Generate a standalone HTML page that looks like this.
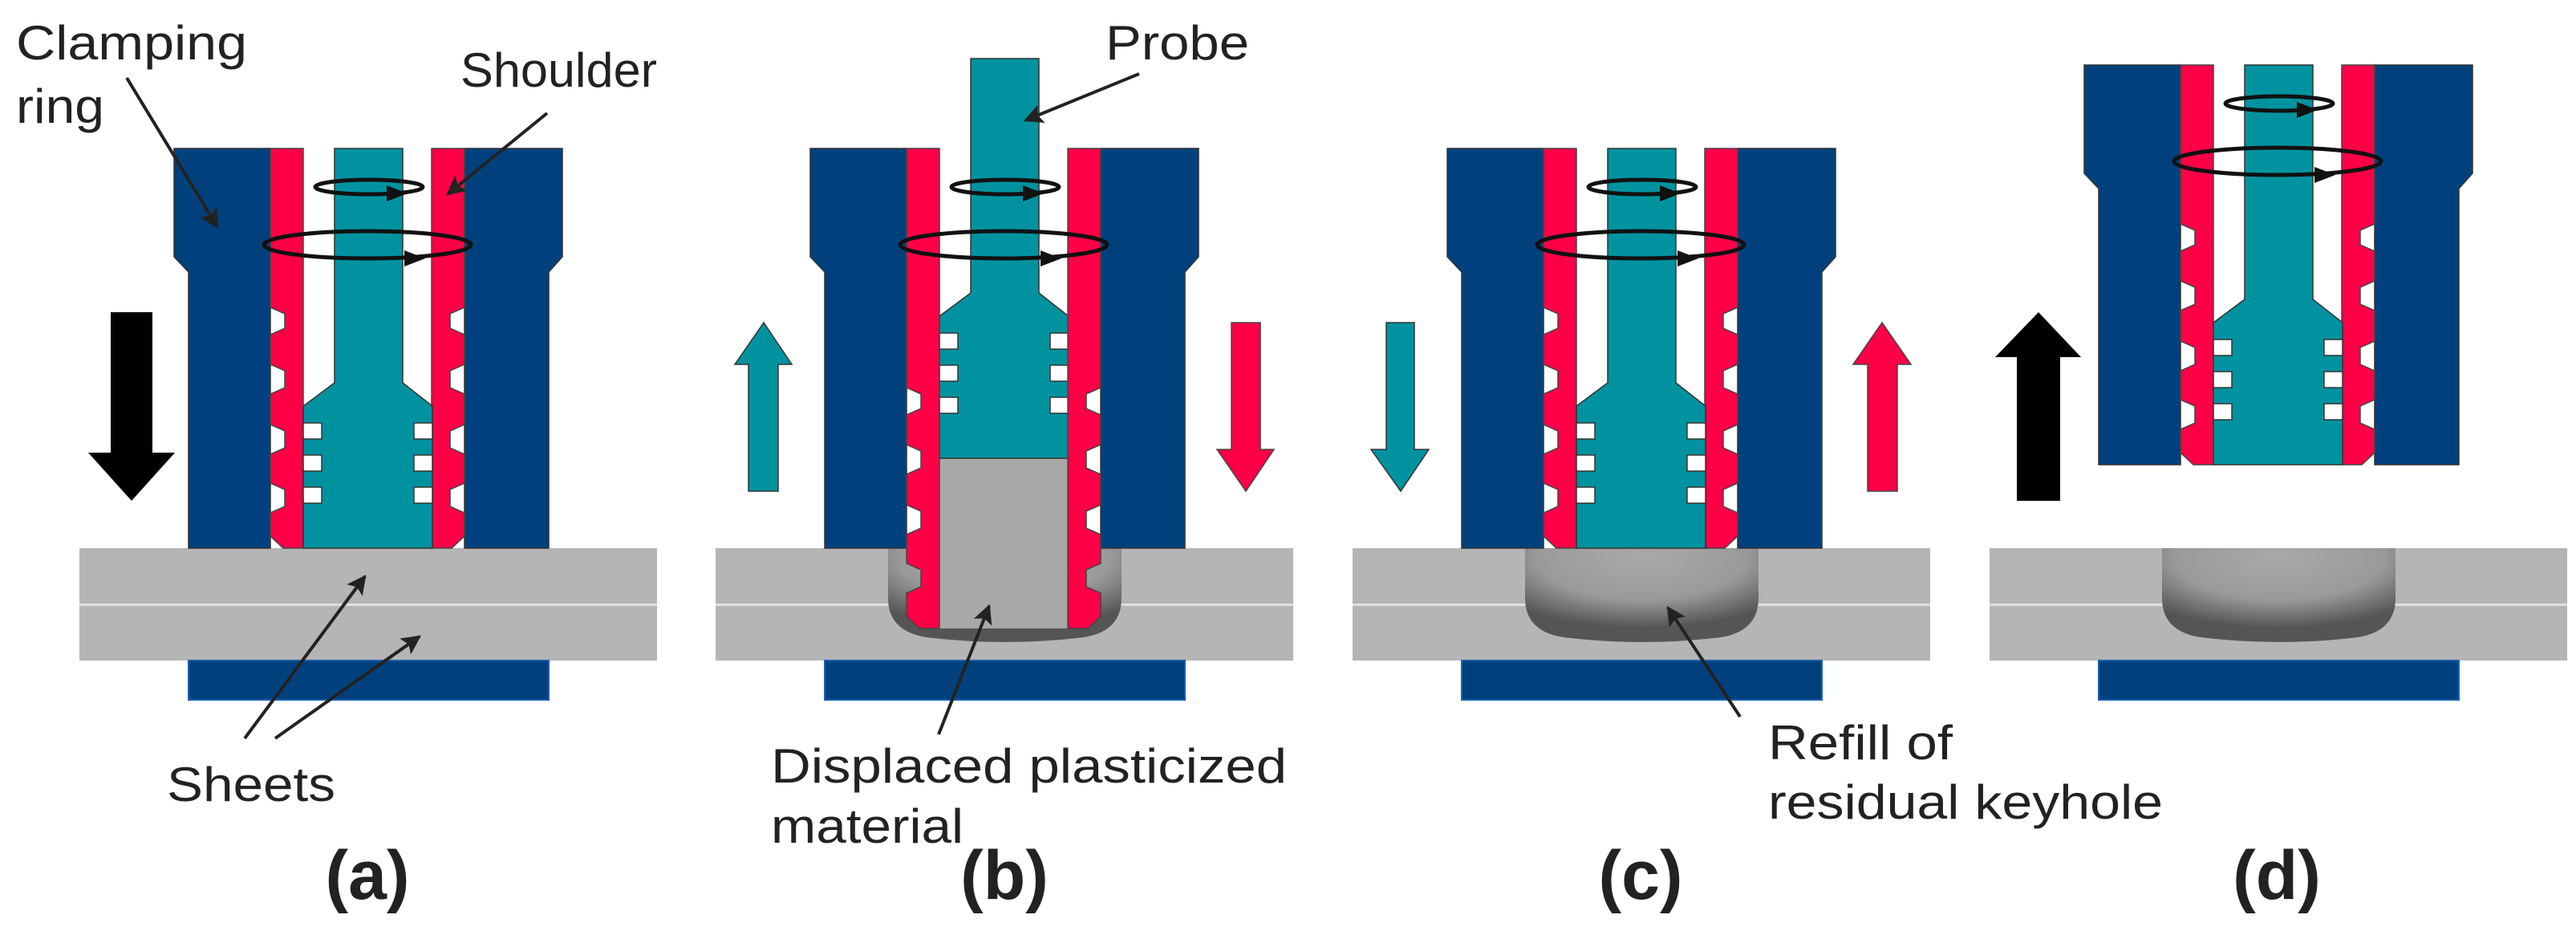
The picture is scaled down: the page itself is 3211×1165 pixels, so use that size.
<!DOCTYPE html>
<html><head><meta charset="utf-8"><style>html,body{margin:0;padding:0;background:#fff}svg{display:block}</style></head>
<body>
<svg width="3211" height="1165" viewBox="0 0 3211 1165" xmlns="http://www.w3.org/2000/svg">
<defs>
<marker id="ah" viewBox="0 0 10 10" refX="9" refY="5" markerWidth="6" markerHeight="6" markerUnits="strokeWidth" orient="auto"><path d="M0,0 L10,5 L0,10 L2,5 Z" fill="#222"/></marker>
<radialGradient id="kg" cx="0.5" cy="0.1" r="0.75">
<stop offset="0" stop-color="#a9a9a9"/><stop offset="0.6" stop-color="#9a9a9a"/><stop offset="1" stop-color="#555"/></radialGradient>
<g id="sheets">
<rect x="99" y="683" width="720" height="140" fill="#b5b5b5"/>
<rect x="99" y="752" width="720" height="3" fill="#e0e0e0"/>
<rect x="235" y="823" width="449" height="49" fill="#00417d" stroke="#1b5fb0" stroke-width="2"/>
</g>
<path id="key" d="M314,683 V745 Q314,790 370,795 Q460,805 550,795 Q605,790 605,745 V683 Z" fill="url(#kg)"/>
<g id="clamp" fill="#00417d" stroke="#333" stroke-width="1.5">
<path d="M217,185 H337 V683 H235 V339 L217,320 Z"/>
<path d="M579,185 H701 V320 L684,339 V683 H579 Z"/>
</g>
<g id="shA" fill="#ff0047" stroke="#444" stroke-width="1.5">
<path id="shAl" d="M337,185 H378 V683 H353 L337,668 V639 L355,631 V610 L337,602 V566 L355,558 V537 L337,529 V491 L355,483 V462 L337,454 V417 L355,409 V391 L337,383 Z"/>
<use href="#shAl" transform="matrix(-1,0,0,1,916,0)"/>
</g>
<g id="shB" fill="#ff0047" stroke="#444" stroke-width="1.5">
<path id="shBl" d="M337,185 H378 V783 H353 L337,768 V739 L355,731 V710 L337,702 V666 L355,658 V637 L337,629 V591 L355,583 V562 L337,554 V517 L355,509 V491 L337,483 Z"/>
<use href="#shBl" transform="matrix(-1,0,0,1,916,0)"/>
</g>
<g id="probe">
<path d="M417,185 H502 V477 L539,506 V683 H378 V506 L417,477 Z" fill="#00939f" stroke="#333" stroke-width="1.5"/>
<g fill="#fff" stroke="#333" stroke-width="1.5">
<rect x="378" y="527" width="23" height="20"/><rect x="378" y="567" width="23" height="20"/><rect x="378" y="607" width="23" height="20"/>
<rect x="516" y="527" width="23" height="20"/><rect x="516" y="567" width="23" height="20"/><rect x="516" y="607" width="23" height="20"/>
</g>
</g>
<g id="rot" fill="none" stroke="#111" stroke-width="5">
<ellipse cx="460" cy="233" rx="67" ry="9"/>
<ellipse cx="458" cy="305" rx="129" ry="17"/>
<polygon points="508,241 482,231 482,251" fill="#111" stroke="none"/>
<polygon points="530,322 504,312 504,332" fill="#111" stroke="none"/>
</g>
</defs>

<!-- Panel a -->
<use href="#sheets"/>
<use href="#clamp"/><use href="#shA"/><use href="#probe"/><use href="#rot"/>
<polygon points="138,389 190,389 190,564 218,564 164,624 110,564 138,564" fill="#000"/>

<!-- Panel b -->
<g transform="translate(793,0)">
<use href="#sheets"/><use href="#key"/>
<rect x="378" y="571" width="161" height="212" fill="#a8a8a8"/>
<use href="#clamp"/>
<use href="#probe" transform="translate(0,-112)"/>
<use href="#shB"/><use href="#rot"/>
<polygon points="140,612 177,612 177,454 194,454 159,402 123,454 140,454" fill="#00939f" stroke="#333" stroke-width="1.5"/>
<polygon points="742,402 778,402 778,560 795,560 760,612 724,560 742,560" fill="#ff0047" stroke="#444" stroke-width="1.5"/>
</g>

<!-- Panel c -->
<g transform="translate(1587,0)">
<use href="#sheets"/><use href="#key"/>
<use href="#clamp"/><use href="#shA"/><use href="#probe"/><use href="#rot"/>
<polygon points="141,402 176,402 176,560 194,560 159,612 122,560 141,560" fill="#00939f" stroke="#333" stroke-width="1.5"/>
<polygon points="741,612 778,612 778,454 795,454 759,402 723,454 741,454" fill="#ff0047" stroke="#444" stroke-width="1.5"/>
</g>

<!-- Panel d -->
<g transform="translate(2381,0)">
<use href="#sheets"/><use href="#key"/>
<g transform="translate(0,-104)">
<use href="#clamp"/><use href="#shA"/><use href="#probe"/><use href="#rot"/>
</g>
<polygon points="133,624 187,624 187,445 213,445 160,389 106,445 133,445" fill="#000"/>
</g>

<!-- label arrows -->
<g stroke="#222" stroke-width="4" fill="none" marker-end="url(#ah)">
<line x1="158" y1="97" x2="271" y2="283"/>
<line x1="682" y1="141" x2="558" y2="242"/>
<line x1="305" y1="920" x2="455" y2="718"/>
<line x1="343" y1="920" x2="523" y2="793"/>
<line x1="1420" y1="92" x2="1278" y2="150"/>
<line x1="1170" y1="915" x2="1233" y2="755"/>
<line x1="2169" y1="893" x2="2079" y2="757"/>
</g>

<g font-family="Liberation Sans, Arial, sans-serif" font-size="60" fill="#222">
<text x="20" y="74" textLength="288" lengthAdjust="spacingAndGlyphs">Clamping</text>
<text x="20" y="153" textLength="110" lengthAdjust="spacingAndGlyphs">ring</text>
<text x="574" y="108" textLength="245" lengthAdjust="spacingAndGlyphs">Shoulder</text>
<text x="208" y="998" textLength="210" lengthAdjust="spacingAndGlyphs">Sheets</text>
<text x="1378" y="74" textLength="179" lengthAdjust="spacingAndGlyphs">Probe</text>
<text x="961" y="975" textLength="643" lengthAdjust="spacingAndGlyphs">Displaced plasticized</text>
<text x="961" y="1050" textLength="240" lengthAdjust="spacingAndGlyphs">material</text>
<text x="2204" y="946" textLength="230" lengthAdjust="spacingAndGlyphs">Refill of</text>
<text x="2204" y="1020" textLength="492" lengthAdjust="spacingAndGlyphs">residual keyhole</text>
</g>
<g font-family="Liberation Sans, Arial, sans-serif" font-size="86" font-weight="bold" fill="#222" text-anchor="middle">
<text x="458" y="1120">(a)</text>
<text x="1252" y="1120">(b)</text>
<text x="2045" y="1120">(c)</text>
<text x="2838" y="1120">(d)</text>
</g>
</svg>
</body></html>
